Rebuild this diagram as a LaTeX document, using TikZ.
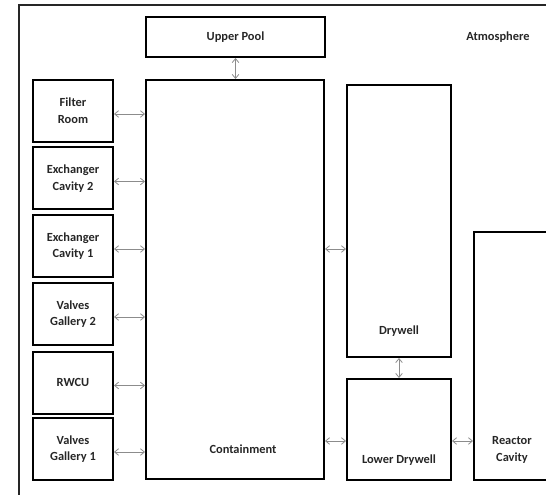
\documentclass[tikz,border=0pt]{standalone}
\usepackage{fontspec}
\setmainfont{Carlito}
\usetikzlibrary{arrows.meta,calc}

\tikzset{every picture/.style={line width=0.75pt}}
\tikzset{
  room/.style={draw=black, line width=1.5pt, inner sep=0pt, align=center,
    font=\bfseries\fontsize{9.3}{12.5}\selectfont, text=black!85},
  sideroom/.style={room, minimum width=60pt, minimum height=46.5pt},
  lbl/.style={inner sep=0pt, align=center, font=\bfseries\fontsize{9.3}{12.5}\selectfont, text=black!85},
  link/.style={draw=black!45, line width=0.6pt,
    {Straight Barb[length=3pt,width=5pt]}-{Straight Barb[length=3pt,width=5pt]}}
}

\begin{document}
\begin{tikzpicture}[x=0.75pt,y=0.75pt,yscale=-1,xscale=1]
	\useasboundingbox (0,0) rectangle (546,495);

	% Frame: atmosphere
	\draw [draw=black!85, line width=1.2pt] (19,5) rectangle (620,560);
	\node [lbl] (atm) at (498,37) {Atmosphere};

	% Containment and upper pool
	\node [room, minimum width=134.25pt, minimum height=30pt] (up) at (235.5,37) {Upper Pool};
	\node [room, minimum width=133.5pt, minimum height=299.25pt] (cont) at (235,279.5) {};
	\node [lbl] (contlbl) at (243,449) {Containment};

	% Side rooms
	\node [sideroom] (fr) at (73,111) {Filter\\Room};
	\node [sideroom] (ec2) at (73,178.5) {Exchanger\\Cavity 2};
	\node [sideroom] (ec1) at (73,246) {Exchanger\\Cavity 1};
	\node [sideroom] (vg2) at (73,314) {Valves\\Gallery 2};
	\node [sideroom] (rw) at (73,382.5) {RWCU};
	\node [sideroom] (vg1) at (73,449) {Valves\\Gallery 1};

	% Drywell, lower drywell, reactor cavity
	\node [room, minimum width=78pt, minimum height=204pt] (dw) at (399,221) {};
	\node [lbl] (dwlbl) at (399,331) {Drywell};
	\node [room, minimum width=78pt, minimum height=75.75pt] (ldw) at (399,429.5) {};
	\node [lbl] (ldwlbl) at (399,460) {Lower Drywell};
	\node [room, minimum width=57pt, minimum height=186pt] (rc) at (512,356) {};
	\node [lbl] (rclbl) at (512,450) {Reactor\\Cavity};

	% Rows of the horizontal links
	\coordinate (dwrow) at (0,249);
	\coordinate (lrow) at (0,441);

	% Links
	\draw [link] (up.south) -- (up.south |- cont.north);
	\foreach \n in {fr,ec2,ec1,vg2,rw,vg1}
		\draw [link] ($(\n.east)+(0,3)$) -- ($(\n.east -| cont.west)+(0,3)$);
	\draw [link] (cont.east |- dwrow) -- (dw.west |- dwrow);
	\draw [link] (dw.south) -- (ldw.north);
	\draw [link] (cont.east |- lrow) -- (ldw.west |- lrow);
	\draw [link] (ldw.east |- lrow) -- (rc.west |- lrow);

\end{tikzpicture}
\end{document}
